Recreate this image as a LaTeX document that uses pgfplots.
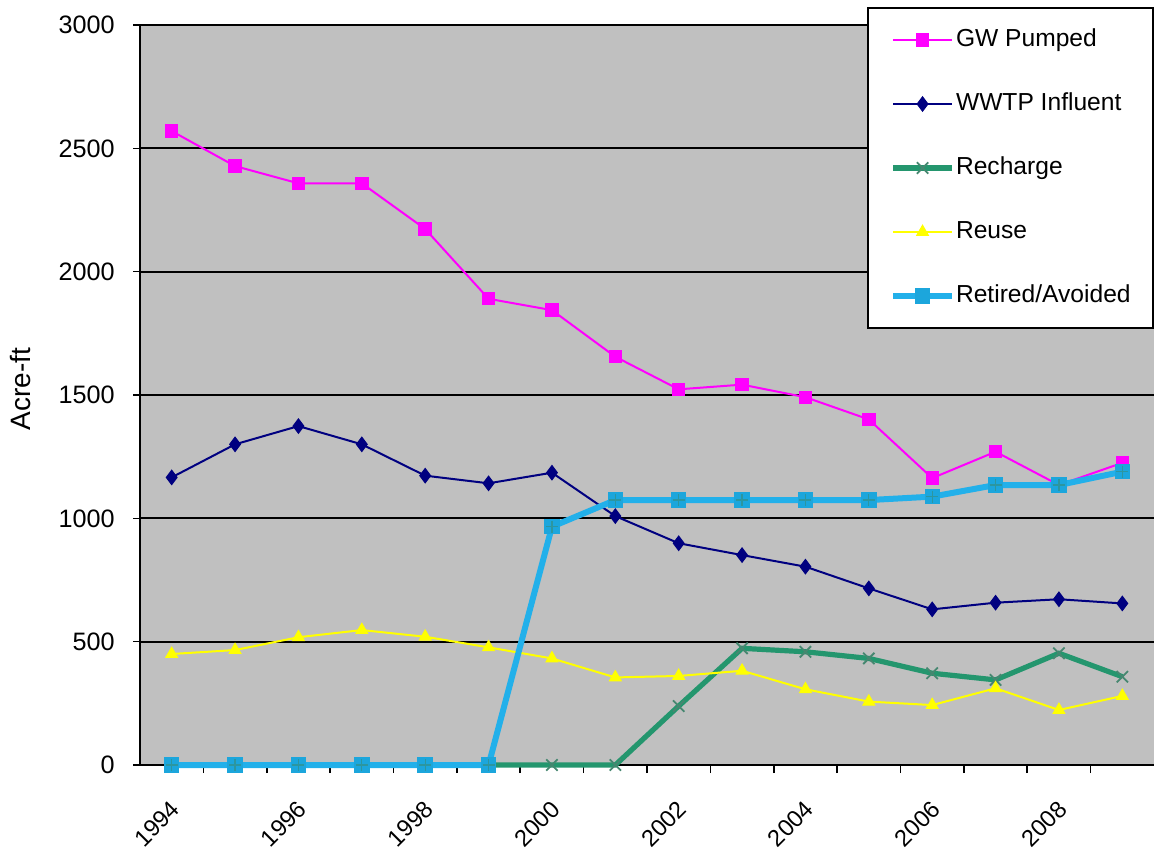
\documentclass[border=0pt]{standalone}
\usepackage{pgfplots}
\pgfplotsset{compat=1.18}
\usepackage{pgfplotstable}
\usepackage{fontspec}
\setmainfont{Liberation Sans}

\definecolor{plotgray}{RGB}{192,192,192}
\definecolor{gwmag}{RGB}{255,0,255}
\definecolor{wwtpnavy}{RGB}{0,0,128}
\definecolor{rechg}{RGB}{36,150,110}
\definecolor{rechgmark}{RGB}{70,135,112}
\definecolor{reuseyel}{RGB}{255,255,0}
\definecolor{retired}{RGB}{34,176,234}
\definecolor{retiredfill}{RGB}{28,166,220}
\definecolor{retiredcross}{RGB}{44,150,160}

% Annual water balance, acre-ft
\pgfplotstableread{
year gw   wwtp recharge reuse retired
1994 2570 1166 0   450 0
1995 2428 1300 0   466 0
1996 2358 1374 0   518 0
1997 2358 1300 0   547 0
1998 2173 1173 0   520 0
1999 1890 1142 0   477 0
2000 1844 1185 0   432 966
2001 1655 1009 0   355 1074
2002 1523 899  239 361 1074
2003 1542 851  473 382 1074
2004 1491 804  459 307 1074
2005 1401 716  432 257 1074
2006 1163 631  372 243 1088
2007 1270 658  345 311 1135
2008 1135 672  453 223 1135
2009 1225 655  358 280 1189
}\flows

\begin{document}
\begin{tikzpicture}
\useasboundingbox (-70pt,-42.5pt) rectangle (507pt,382.5pt);
\begin{axis}[
  at={(0,0)}, anchor=south west,
  scale only axis, width=507pt, height=370pt,
  xmin=1993.5, xmax=2009.5, ymin=0, ymax=3000,
  clip=false,
  axis background/.style={fill=plotgray},
  axis x line*=bottom, axis y line*=left,
  axis line style={-, black, line width=1pt},
  ytick={0,500,...,3000},
  ymajorgrids, major grid style={black, line width=0.9pt},
  xtick={1994,1996,...,2008},
  minor xtick={1994.5,1995.5,...,2008.5},
  tick align=outside,
  major tick length=3.5pt, minor tick length=4pt,
  major x tick style={draw=none},
  tick style={black, line width=0.8pt},
  /pgf/number format/assume math mode=true,
  /pgf/number format/set thousands separator={},
  yticklabel style={font=\fontsize{12.6}{15}\selectfont, anchor=east, inner sep=0pt, xshift=-9pt},
  xticklabel style={font=\fontsize{11.8}{14}\selectfont, xshift=2pt, yshift=-16.5pt, rotate=45, anchor=east, inner sep=0pt},
  ylabel={Acre-ft},
  ylabel style={font=\fontsize{14}{16}\selectfont, at={(axis description cs:-0.1183,0.508)}, anchor=center},
  legend cell align=left,
  legend image code/.code={\draw[mark repeat=2,mark phase=2,#1] plot coordinates {(0pt,0pt) (14.75pt,0pt) (29.5pt,0pt)};},
  legend style={at={(axis description cs:0.7170,1.0243)}, anchor=north west,
    draw=black, line width=1pt, fill=white,
    font=\fontsize{12.3}{14}\selectfont,
    inner xsep=11pt, inner ysep=10pt, row sep=20pt, column sep=0.5pt,
    nodes={inner sep=0pt, text height=9pt, text depth=3pt}},
]
\addplot[gwmag, line width=1pt, mark=square*, mark size=3.1pt,
  mark options={fill=gwmag, draw=gwmag, line width=0.5pt}]
  table[x=year, y=gw] {\flows};
\addlegendentry{GW Pumped}
\addplot[wwtpnavy, line width=1pt, mark=diamond*, mark size=3.6pt,
  mark options={fill=wwtpnavy, draw=wwtpnavy, line width=0.5pt}]
  table[x=year, y=wwtp] {\flows};
\addlegendentry{WWTP Influent}
\addplot[rechg, line width=2.6pt, mark=x, mark size=4pt,
  mark options={draw=rechgmark, line width=0.9pt}]
  table[x=year, y=recharge] {\flows};
\addlegendentry{Recharge}
\addplot[reuseyel, line width=1pt, mark=triangle*, mark size=3.4pt,
  mark options={fill=reuseyel, draw=reuseyel, line width=0.5pt}]
  table[x=year, y=reuse] {\flows};
\addlegendentry{Reuse}
\addplot[retired, line width=3pt, mark=square*, mark size=3.6pt,
  mark options={fill=retiredfill, draw=retiredfill, line width=0.5pt}]
  table[x=year, y=retired] {\flows};
\addlegendentry{Retired/Avoided}
\addplot[only marks, forget plot, mark=+, mark size=3pt,
  mark options={draw=retiredcross, line width=0.6pt}]
  table[x=year, y=retired] {\flows};
\end{axis}
\end{tikzpicture}
\end{document}
